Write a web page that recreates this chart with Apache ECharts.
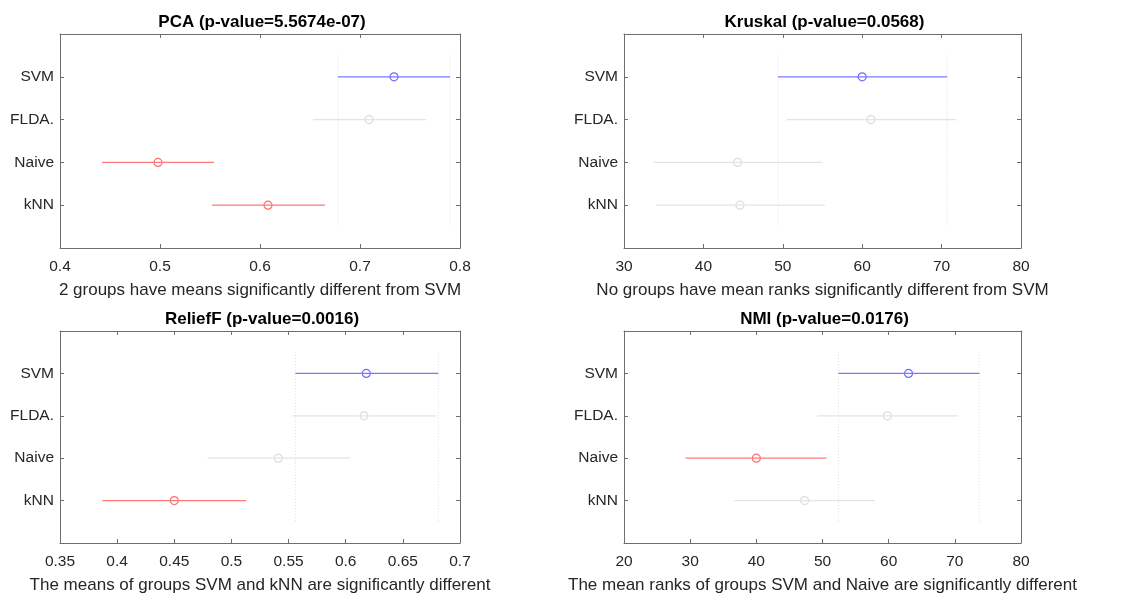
<!DOCTYPE html>
<html>
<head>
<meta charset="utf-8">
<title>Multiple comparison of classifiers</title>
<script src="https://cdn.jsdelivr.net/npm/echarts@6/dist/echarts.min.js"></script>
<style>
  html, body { margin: 0; padding: 0; background: #fff; }
  #chart { width: 1126px; height: 596px; }
</style>
</head>
<body>
<div id="chart"></div>
<script>
// Groups, top to bottom
const groups = ['SVM', 'FLDA.', 'Naive', 'kNN'];

// PCA: comparison intervals of the group means
const pcaLow  = [0.678, 0.653, 0.442, 0.552];
const pcaMean = [0.734, 0.709, 0.498, 0.608];
const pcaHigh = [0.790, 0.766, 0.554, 0.665];
const pcaState = ['ref', 'ns', 'sig', 'sig'];

// Kruskal: comparison intervals of the mean ranks
const kruLow  = [49.4, 50.5, 33.7, 34.0];
const kruMean = [60.0, 61.1, 44.3, 44.6];
const kruHigh = [70.7, 71.8, 55.0, 55.3];
const kruState = ['ref', 'ns', 'ns', 'ns'];

// ReliefF: comparison intervals of the group means
const relLow  = [0.556, 0.553, 0.479, 0.387];
const relMean = [0.618, 0.616, 0.541, 0.450];
const relHigh = [0.681, 0.679, 0.604, 0.513];
const relState = ['ref', 'ns', 'ns', 'sig'];

// NMI: comparison intervals of the mean ranks
const nmiLow  = [52.4, 49.2, 29.3, 36.6];
const nmiMean = [63.0, 59.8, 40.0, 47.3];
const nmiHigh = [73.7, 70.5, 50.6, 57.9];
const nmiState = ['ref', 'ns', 'sig', 'ns'];

const panels = [
  { title: 'PCA (p-value=5.5674e-07)', xlabel: '2 groups have means significantly different from SVM',
    low: pcaLow, mean: pcaMean, high: pcaHigh, state: pcaState, min: 0.4, max: 0.8, interval: 0.1,
    grid: { left: 60, top: 34, width: 400, height: 214 } },
  { title: 'Kruskal (p-value=0.0568)', xlabel: 'No groups have mean ranks significantly different from SVM',
    low: kruLow, mean: kruMean, high: kruHigh, state: kruState, min: 30, max: 80, interval: 10,
    grid: { left: 624, top: 34, width: 397, height: 214 } },
  { title: 'ReliefF (p-value=0.0016)', xlabel: 'The means of groups SVM and kNN are significantly different',
    low: relLow, mean: relMean, high: relHigh, state: relState, min: 0.35, max: 0.7, interval: 0.05,
    grid: { left: 60, top: 331, width: 400, height: 212 } },
  { title: 'NMI (p-value=0.0176)', xlabel: 'The mean ranks of groups SVM and Naive are significantly different',
    low: nmiLow, mean: nmiMean, high: nmiHigh, state: nmiState, min: 20, max: 80, interval: 10,
    grid: { left: 624, top: 331, width: 397, height: 212 } }
];

const lineColor = { ref: '#7878ff', sig: '#ff7878', ns: '#e4e4e4' };
const dotColor  = { ref: '#4a4aff', sig: '#ff4a4a', ns: '#d4d4d4' };

const FONT = '"Liberation Sans", Arial, Helvetica, sans-serif';
const AXIS = '#6e6e6e';
const TEXT = '#262626';

function boxLine() {
  return { show: true, onZero: false, lineStyle: { color: AXIS, width: 1 } };
}
function boxTick() {
  return { show: true, inside: true, length: 4, lineStyle: { color: AXIS } };
}

const option = { animation: false, title: [], grid: [], xAxis: [], yAxis: [], series: [] };

panels.forEach((p, i) => {
  const g = p.grid;
  option.grid.push(Object.assign({ containLabel: false }, g));
  option.title.push({
    text: p.title,
    left: g.left + g.width / 2 - 3,
    top: g.top - 25,
    textAlign: 'center',
    textStyle: { fontFamily: FONT, fontSize: 17, fontWeight: 'bold', color: '#000' }
  });

  const decimals = p.interval < 0.1 ? 2 : (p.interval < 1 ? 1 : 0);
  // bottom axis with tick labels and the comparison summary
  option.xAxis.push({
    type: 'value', gridIndex: i, position: 'bottom',
    min: p.min, max: p.max, interval: p.interval,
    name: p.xlabel, nameLocation: 'middle', nameGap: 34,
    nameTextStyle: { fontFamily: FONT, fontSize: 17, color: TEXT },
    axisLine: boxLine(), axisTick: boxTick(),
    axisLabel: { fontFamily: FONT, fontSize: 15.5, color: TEXT, margin: 11,
      formatter: v => (+v.toFixed(decimals)).toString() },
    splitLine: { show: false }
  });
  // top edge of the box
  option.xAxis.push({
    type: 'value', gridIndex: i, position: 'top',
    min: p.min, max: p.max, interval: p.interval,
    axisLine: boxLine(), axisTick: boxTick(),
    axisLabel: { show: false }, splitLine: { show: false }
  });
  // left axis with group names
  option.yAxis.push({
    type: 'value', gridIndex: i, position: 'left', inverse: true,
    min: 0, max: 5, interval: 1,
    axisLine: boxLine(), axisTick: boxTick(),
    axisLabel: { fontFamily: FONT, fontSize: 15.5, color: TEXT, margin: 6,
      formatter: v => groups[v - 1] || '' },
    splitLine: { show: false }
  });
  // right edge of the box
  option.yAxis.push({
    type: 'value', gridIndex: i, position: 'right', inverse: true,
    min: 0, max: 5, interval: 1,
    axisLine: boxLine(), axisTick: boxTick(),
    axisLabel: { show: false }, splitLine: { show: false }
  });

  const xi = i * 2, yi = i * 2;

  // dotted guides at the reference group's interval ends
  [p.low[0], p.high[0]].forEach(x => {
    option.series.push({
      type: 'line', xAxisIndex: xi, yAxisIndex: yi, symbol: 'none', silent: true,
      data: [[x, 0.5], [x, 4.5]],
      lineStyle: { color: '#dedede', width: 1, type: [1, 2] }
    });
  });

  // interval lines
  groups.forEach((name, k) => {
    option.series.push({
      type: 'line', xAxisIndex: xi, yAxisIndex: yi, symbol: 'none', silent: true,
      data: [[p.low[k], k + 1], [p.high[k], k + 1]],
      lineStyle: { color: lineColor[p.state[k]], width: 1.3 }
    });
  });

  // group estimates
  groups.forEach((name, k) => {
    option.series.push({
      type: 'scatter', xAxisIndex: xi, yAxisIndex: yi, silent: true,
      symbol: 'circle', symbolSize: 8,
      data: [[p.mean[k], k + 1]],
      itemStyle: { color: 'rgba(255,255,255,0)', borderColor: dotColor[p.state[k]], borderWidth: 1.2 }
    });
  });
});

const chart = echarts.init(document.getElementById('chart'), null, { renderer: 'canvas' });
chart.setOption(option);
</script>
</body>
</html>
